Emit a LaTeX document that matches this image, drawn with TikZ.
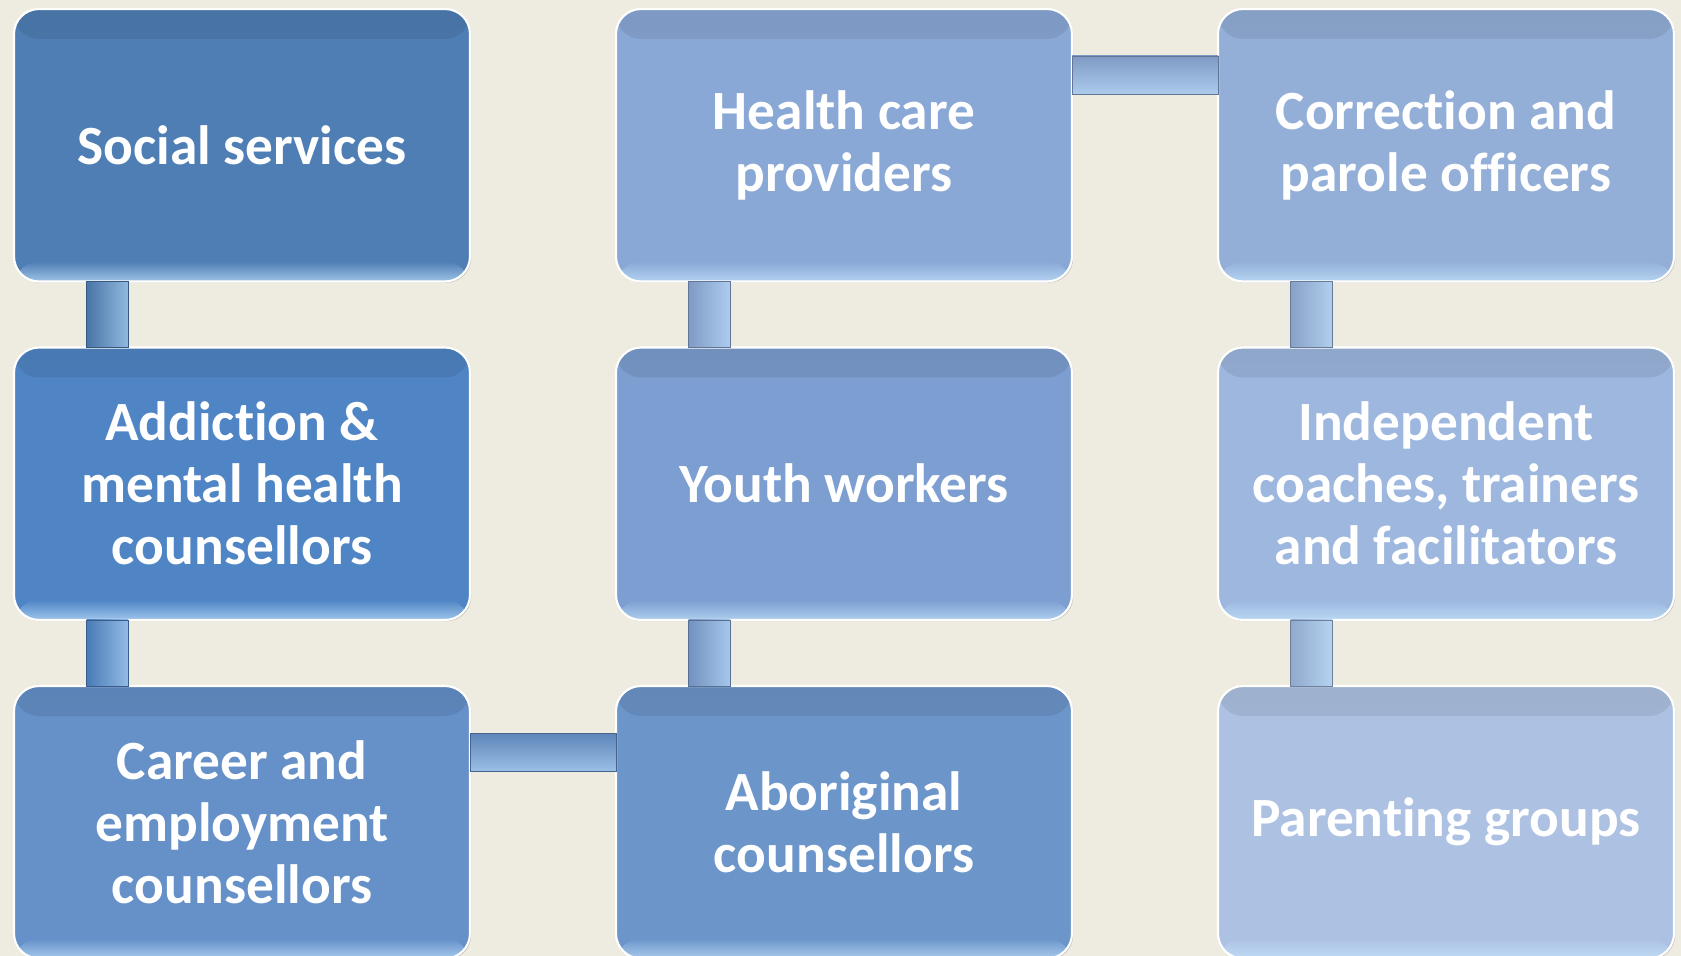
\documentclass[tikz,border=0pt]{standalone}
\usepackage{fontspec}
\setmainfont[Ligatures={NoCommon,NoContextual},RawFeature={-liga;-clig;-calt;-dlig}]{Carlito}
\usepackage{tikz}
\usetikzlibrary{positioning,shadows}

\definecolor{bgc}{HTML}{EEEBE0}
\definecolor{hlblue}{HTML}{C8E8FF}
\definecolor{socc}{HTML}{4F7EB5}
\definecolor{addc}{HTML}{5085C5}
\definecolor{carc}{HTML}{6590C8}
\definecolor{hltc}{HTML}{8AA8D6}
\definecolor{ythc}{HTML}{7C9ED0}
\definecolor{aboc}{HTML}{6C95CA}
\definecolor{corc}{HTML}{93AFD8}
\definecolor{indc}{HTML}{9DB7DE}
\definecolor{parc}{HTML}{ADC2E3}
\newcommand{\nl}{\kern0pt}

\tikzset{
  box/.style={rounded corners=0.5cm, minimum width=9.12cm, minimum height=5.45cm,
    outer sep=0pt, inner sep=2pt, align=center, text=white,
    font=\fontsize{31.5}{35.3}\selectfont\bfseries,
    draw=white, line width=1.2pt, fill=#1,
    drop shadow={shadow xshift=0.7pt, shadow yshift=-0.7pt, opacity=0.45, fill=gray},
    path picture={
      \shade[top color=#1!91!black, bottom color=#1]
        (path picture bounding box.north west) rectangle ([yshift=-0.6cm]path picture bounding box.north east);
      \shade[top color=#1, bottom color=#1!35!hlblue]
        ([yshift=0.4cm]path picture bounding box.south west) rectangle (path picture bounding box.south east);
    }},
  vbar/.style={left color=#1!92!black, right color=#1!45!hlblue, draw=#1!70!black, line width=0.4pt},
  hbar/.style={top color=#1!92!black, bottom color=#1!45!hlblue, draw=#1!70!black, line width=0.4pt},
  node distance=1.32cm and 2.92cm
}

\begin{document}
\begin{tikzpicture}
\fill[bgc] (0,0) rectangle (33.62,-19.12);
\useasboundingbox (0,0) rectangle (33.62,-19.12);

\node[box=socc, anchor=north west](soc) at (0.28,-0.18) {Social services};
\node[box=addc, below=of soc](add) {Addict\nl ion \&\\mental health\\counsellors};
\node[box=carc, below=of add](car) {Career and\\employment\\counsellors};
\node[box=hltc, right=of soc](hlt) {Health care\\providers};
\node[box=ythc, below=of hlt](yth) {Youth workers};
\node[box=aboc, below=of yth](abo) {Aboriginal\\counsellors};
\node[box=corc, right=of hlt](cor) {Correct\nl ion and\\parole officers};
\node[box=indc, below=of cor](ind) {Independent\\coaches, trainers\\and facilitat\nl ors};
\node[box=parc, below=of ind](par) {Parent\nl ing groups};

% connectors
\shade[vbar=socc] ([xshift=1.45cm]soc.south west) rectangle ([xshift=2.28cm]add.north west);
\shade[vbar=addc] ([xshift=1.45cm]add.south west) rectangle ([xshift=2.28cm]car.north west);
\shade[vbar=hltc] ([xshift=1.45cm]hlt.south west) rectangle ([xshift=2.28cm]yth.north west);
\shade[vbar=ythc] ([xshift=1.45cm]yth.south west) rectangle ([xshift=2.28cm]abo.north west);
\shade[vbar=corc] ([xshift=1.45cm]cor.south west) rectangle ([xshift=2.28cm]ind.north west);
\shade[vbar=indc] ([xshift=1.45cm]ind.south west) rectangle ([xshift=2.28cm]par.north west);
\shade[hbar=hltc] ([yshift=-0.94cm]hlt.north east) rectangle ([yshift=-1.71cm]cor.north west);
\shade[hbar=carc] ([yshift=-0.94cm]car.north east) rectangle ([yshift=-1.71cm]abo.north west);
\end{tikzpicture}
\end{document}
